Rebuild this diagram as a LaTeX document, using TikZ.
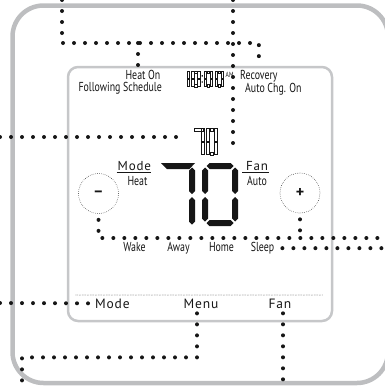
\documentclass[tikz,border=0pt]{standalone}
\usepackage{fontspec}
\usetikzlibrary{calc}
\newfontfamily\condfont[FakeStretch=0.76]{PT Sans}
\newfontfamily\keyfont[LetterSpace=6]{PT Sans}
\definecolor{casegray}{HTML}{BDBEC0}
\definecolor{screengray}{HTML}{C6C7C9}
\definecolor{ink}{HTML}{161616}
\tikzset{every node/.style={inner sep=0pt,text=ink},
 cond/.style={font=\condfont\fontsize{13}{14}\selectfont},
 tiny/.style={font=\condfont\fontsize{7.5}{8}\selectfont},
 key/.style={font=\keyfont\fontsize{13.5}{14}\selectfont},
 modekey/.style={font=\keyfont\fontsize{13}{14}\selectfont},
 leader/.style={draw=ink,line width=4pt,line cap=round,dash pattern=on 0pt off 11pt},
 btn/.style={circle,draw=ink,line width=.7pt,line cap=round,dash pattern=on 0pt off 1.9pt,
  minimum size=40pt,font=\keyfont\bfseries\fontsize{16}{16}\selectfont},
 lcdfill/.style={fill=ink},
 lcdline/.style={draw=ink,line width=.4pt}}
% filled seven segment pieces: style, from, to, at (half width in \segh)
\newcommand{\hseg}[4]{\path[#1] (#2,#4) -- (#2+\segh,#4-\segh) -- (#3-\segh,#4-\segh)
 -- (#3,#4) -- (#3-\segh,#4+\segh) -- (#2+\segh,#4+\segh) -- cycle;}
\newcommand{\vseg}[4]{\path[#1] (#2,#3) -- (#2+\segh,#3+\segh) -- (#2+\segh,#4-\segh)
 -- (#2,#4) -- (#2-\segh,#4-\segh) -- (#2-\segh,#3+\segh) -- cycle;}
% hollow digits: left, right, top, bottom, bar width
\newcommand{\hollowright}[4]{%
 \path[lcdline] (#1-#4,#2+.6) rectangle (#1,{(#2+#3)/2-.6});
 \path[lcdline] (#1-#4,{(#2+#3)/2+.6}) rectangle (#1,#3-.6);}
\newcommand{\hollowzero}[5]{%
 \path[lcdline] (#1+#5+.6,#3) rectangle (#2-#5-.6,#3+#5);
 \path[lcdline] (#1+#5+.6,#4-#5) rectangle (#2-#5-.6,#4);
 \path[lcdline] (#1,#3+.6) rectangle (#1+#5,{(#3+#4)/2-.6});
 \path[lcdline] (#1,{(#3+#4)/2+.6}) rectangle (#1+#5,#4-.6);
 \hollowright{#2}{#3}{#4}{#5}}

\begin{document}
\begin{tikzpicture}[x=1pt,y=-1pt]

\useasboundingbox (0,0) rectangle (384,388);
% case and screen
\draw[casegray,line width=4.5pt,rounded corners=31pt] (12.5,5.5) rectangle (388,383);
\draw[screengray,line width=2.5pt,rounded corners=10pt] (68,67) rectangle (332,321);
\draw[ink,line width=.6pt,line cap=round,dash pattern=on 0pt off 1.6pt] (76,295) -- (323,295);

% clock 10:00
\hollowright{189.5}{71}{87}{2.4}
\foreach \l/\r in {191.5/200,204/212.5,215/223.5}{\hollowzero{\l}{\r}{71}{87}{2.4}}
\fill[ink] (201.6,75.2) rectangle (202.9,76.5) (201.6,81.4) rectangle (202.9,82.7);

% set point 70
\path[lcdline] (194.5,128) rectangle (203.6,131);
\hollowright{204.5}{128}{155}{3}
\hollowzero{206.5}{217}{128}{155}{3}

% room temperature 70
\def\segh{3}
\fill[ink] (161,163) -- (195,163) -- (189.5,169) -- (167,169) -- cycle;
\vseg{lcdfill}{192}{167.5}{194}
\vseg{lcdfill}{192}{197}{224.5}
\hseg{lcdfill}{206.5}{233.5}{166}
\hseg{lcdfill}{206.5}{233.5}{223}
\foreach \x in {205,235}{
 \vseg{lcdfill}{\x}{167.5}{194}
 \vseg{lcdfill}{\x}{197}{221.5}}

% labels
\node[cond,anchor=base east] (heaton) at (160.5,79.5) {Heat On};
\node[cond,anchor=base east] (sched) at (162,91.5) {Following Schedule};
\node[tiny,anchor=base west] (am) at (225.5,77.5) {AM};
\node[cond,anchor=base west] (recov) at (240,79.5) {Recovery};
\node[cond,anchor=base west] (autochg) at (245,92) {Auto Chg. On};
\node[modekey,anchor=base west] (modeup) at (117.5,170) {Mode};
\node[cond,anchor=base] (heat) at (137.5,185.5) {Heat};
\node[modekey,anchor=base west] (fanup) at (246,170) {Fan};
\node[cond,anchor=base] (auto) at (257,185.5) {Auto};
\draw[ink,line width=1.1pt] ($(modeup.base west)+(-1,2.2)$) -- ($(modeup.base east)+(0,2.2)$);
\draw[ink,line width=1.1pt] ($(fanup.base west)+(-4,2.2)$) -- ($(fanup.base east)+(1,2.2)$);
\node[btn] (minus) at (98.5,193.5) {\textendash};
\node[btn] (plus) at (300,193) {+};
\node[cond,anchor=base] (wake) at (134.5,251.5) {Wake};
\node[cond,anchor=base] (away) at (178.5,251.5) {Away};
\node[cond,anchor=base] (home) at (221.5,251.5) {Home};
\node[cond,anchor=base] (sleep) at (262.5,251.5) {Sleep};
\node[key,anchor=base west] (modekey) at (95,308) {Mode};
\node[key,anchor=base] (menukey) at (201,308) {Menu};
\node[key,anchor=base] (fankey) at (280,308) {Fan};

% leaders
\coordinate (topA) at (62,0);
\coordinate (cornerA) at (62,43);
\coordinate (branchA) at (138,43);
\coordinate (topB) at (233,0);
\coordinate (setB) at (233,153);
\coordinate (leftC) at (0,137);
\coordinate (setC) at (185,137);
\coordinate (rightD) at (384,238);
\coordinate (rightE) at (384,248);
\coordinate (leftF) at (0,303);
\coordinate (bottomG) at (22,388);
\coordinate (menulead) at ($(menukey.south)+(-4,5)$);
\coordinate (fanlead) at ($(fankey.south)+(3,5)$);
\draw[leader] (topA) -- (cornerA) -| ($(recov.north)+(0,-5)$);
\draw[leader] (branchA) -- ($(branchA |- heaton.north)+(0,-5)$);
\draw[leader] (topB) -- (setB);
\draw[leader] (leftC) -- (setC);
\draw[leader] ($(minus.south)+(0,6)$) |- (rightD);
\draw[leader] ($(plus.south)+(0,6)$) -- (plus.south |- rightD);
\draw[leader] ($(sleep.east)+(8,0)$) -- (sleep.east -| rightE);
\draw[leader] (leftF) -- ($(modekey.west)+(-5,0)$);
\draw[leader] (menulead) -- ++(0,44) -| (bottomG);
\draw[leader] (fanlead) -- (fanlead |- bottomG);

\end{tikzpicture}
\end{document}
